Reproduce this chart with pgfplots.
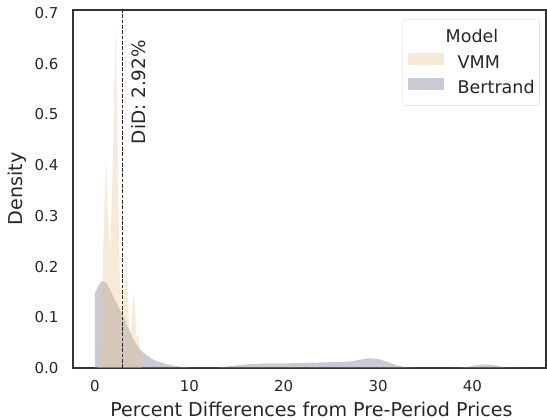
\documentclass[border=0pt]{standalone}
\usepackage{fontspec}
\setmainfont{DejaVu Sans}
\usepackage{pgfplots}
\pgfplotsset{compat=1.18}
\definecolor{vmm}{HTML}{E8C28A}
\definecolor{bert}{HTML}{8A8C9C}
\definecolor{spine}{HTML}{333333}
\begin{document}
\begin{tikzpicture}
\begin{axis}[
  scale only axis, width=473bp, height=358bp,
  xmin=-2.33, xmax=47.8, ymin=0, ymax=0.706,
  axis line style={spine, line width=1.25bp},
  major tick length=0pt,
  xtick={0,10,20,30,40},
  ytick={0,0.1,0.2,0.3,0.4,0.5,0.6,0.7},
  yticklabel style={/pgf/number format/fixed, /pgf/number format/fixed zerofill, /pgf/number format/precision=1},
  /pgf/number format/assume math mode=true,
  tick label style={font=\fontsize{15bp}{18bp}\selectfont, text=black!85},
  xticklabel style={yshift=-9bp},
  yticklabel style={xshift=-11bp},
  xlabel={Percent Differences from Pre-Period Prices},
  ylabel={Density},
  label style={font=\fontsize{19.1bp}{22bp}\selectfont, text=black!85},
  xlabel style={yshift=-3bp, xshift=2bp},
  ylabel style={yshift=1bp},
  legend style={at={(0.987,0.975)}, anchor=north east, draw=black!15, rounded corners=3bp,
    fill=white, font=\fontsize{17.5bp}{20bp}\selectfont, text=black!85,
    row sep=6bp, column sep=14bp, inner xsep=5bp, inner ysep=8bp,
    nodes={inner ysep=0pt, inner xsep=0pt, text height=13bp, text depth=4bp}},
  legend cell align=left,
]
\addlegendimage{legend image code/.code={\path[draw=none, fill=none] (0bp,-1bp) rectangle (36bp,11bp);}}
\addlegendentry{\hspace*{-12bp}Model}
\addplot[draw=none, fill=bert, fill opacity=0.45, forget plot] coordinates {
(0,0) (0,0.147) (0.3,0.160) (0.6,0.169) (0.85,0.172) (1.2,0.168) (1.6,0.155) (2.0,0.138)
(2.5,0.120) (2.93,0.105) (3.5,0.080) (4.0,0.060) (4.5,0.043) (5.0,0.032) (5.5,0.025)
(6.0,0.018) (6.5,0.014) (7.0,0.011) (7.5,0.008) (8.0,0.006) (8.5,0.004) (9.0,0.0025)
(10,0.001) (12,0.0005) (13,0.001) (14,0.003) (15,0.005) (16,0.007) (17,0.008) (18,0.009)
(20,0.009) (22,0.010) (24,0.011) (26,0.012) (27,0.013) (28,0.016) (29,0.019) (30,0.018)
(31,0.012) (32,0.005) (33,0.0015) (34,0.0005) (36,0.0002) (38,0.0005) (39.5,0.002)
(40.5,0.006) (41.5,0.007) (42.5,0.005) (43.5,0.001) (45,0.0002) (46,0)
} \closedcycle;
\addplot[draw=none, fill=vmm, fill opacity=0.35, forget plot] coordinates {
(0.3,0) (0.55,0.03) (0.75,0.12) (0.95,0.30) (1.15,0.41) (1.3,0.33) (1.5,0.26) (1.62,0.23)
(1.75,0.32) (1.95,0.45) (2.1,0.60) (2.2,0.67) (2.3,0.55) (2.45,0.35) (2.6,0.20) (2.75,0.12)
(2.9,0.10) (3.1,0.16) (3.3,0.23) (3.45,0.17) (3.6,0.09) (3.75,0.06) (3.9,0.09) (4.1,0.15)
(4.25,0.12) (4.4,0.06) (4.6,0.07) (4.75,0.04) (4.95,0)
} \closedcycle;
\addlegendimage{legend image code/.code={\fill[sharp corners, draw=none, vmm, fill opacity=0.35] (0bp,-1bp) rectangle (36bp,11bp);}}
\addlegendentry{VMM}
\addlegendimage{legend image code/.code={\fill[sharp corners, draw=none, bert, fill opacity=0.45] (0bp,-1bp) rectangle (36bp,11bp);}}
\addlegendentry{Bertrand}
\addplot[black!85, line width=1bp, dash pattern=on 3.7bp off 1.6bp, forget plot] coordinates {(2.92,0) (2.92,0.706)};
\node[rotate=90, anchor=north east, inner sep=0pt, font=\fontsize{18.4bp}{21bp}\selectfont, text=black!85] at (axis cs:3.9,0.647) {DiD: 2.92\%};
\coordinate (bl) at (rel axis cs:0,0);
\coordinate (tr) at (rel axis cs:1,1);
\end{axis}
\pgfresetboundingbox
\path[use as bounding box] ([shift={(-73bp,-52bp)}]bl) rectangle ([shift={(1bp,10bp)}]tr);
\end{tikzpicture}
\end{document}
